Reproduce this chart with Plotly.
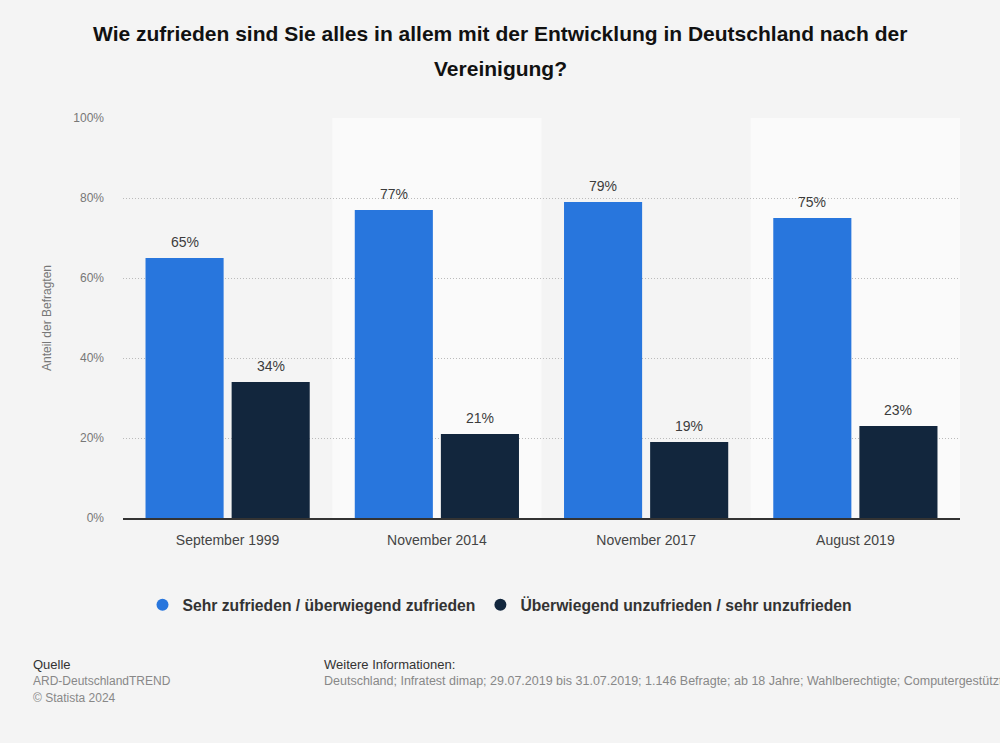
import plotly.graph_objects as go

categories = ["September 1999", "November 2014", "November 2017", "August 2019"]
zufrieden = [65, 77, 79, 75]
unzufrieden = [34, 21, 19, 23]
series_names = ["Sehr zufrieden / überwiegend zufrieden", "Überwiegend unzufrieden / sehr unzufrieden"]
colors = ["#2876dd", "#12263d"]
y_ticks = [0, 20, 40, 60, 80, 100]

W, H = 1000, 743
L, R, T, B = 123, 40, 118, 225
PW, PH = W - L - R, H - T - B

def px(x):
    return (x - L) / PW

def py(y):
    return (H - B - y) / PH

FONT = "Liberation Sans, Arial, sans-serif"

fig = go.Figure()
series = [zufrieden, unzufrieden]
for name, vals, col in zip(series_names, series, colors):
    fig.add_trace(go.Bar(
        x=categories, y=vals, name=name, marker=dict(color=col, line=dict(width=0)),
        showlegend=False, hoverinfo="x+y",
    ))
# legend entries with circle markers
for name, col in zip(series_names, colors):
    fig.add_trace(go.Scatter(
        x=[None], y=[None], mode="markers", name=f"<b>{name}</b>",
        marker=dict(symbol="circle", size=15, color=col), showlegend=True,
    ))

shapes = []
for i in range(len(categories)):
    if i % 2 == 1:
        shapes.append(dict(type="rect", xref="x", yref="paper", x0=i - 0.5, x1=i + 0.5,
                           y0=0, y1=1, fillcolor="#fafafa", line=dict(width=0), layer="below"))

annotations = []
# value labels above bars
for si, vals in enumerate(series):
    shift = -43 if si == 0 else 43
    for cat, v in zip(categories, vals):
        annotations.append(dict(
            text=f"{v}%", x=cat, y=v, xref="x", yref="y", xshift=shift, yshift=6,
            xanchor="center", yanchor="bottom", showarrow=False,
            font=dict(size=14, color="#3c3c3c", family=FONT)))

annotations += [
    dict(text="<b>Wie zufrieden sind Sie alles in allem mit der Entwicklung in Deutschland nach der</b>",
         xref="paper", yref="paper", x=px(500), y=py(33), xanchor="center", yanchor="middle",
         showarrow=False, font=dict(size=21, color="#111111", family=FONT)),
    dict(text="<b>Vereinigung?</b>",
         xref="paper", yref="paper", x=px(500), y=py(68), xanchor="center", yanchor="middle",
         showarrow=False, font=dict(size=21, color="#111111", family=FONT)),
    dict(text="Quelle", xref="paper", yref="paper", x=px(31), y=py(664), xanchor="left", yanchor="middle",
         showarrow=False, font=dict(size=13, color="#333333", family=FONT)),
    dict(text="ARD-DeutschlandTREND", xref="paper", yref="paper", x=px(31), y=py(681), xanchor="left",
         yanchor="middle", showarrow=False, font=dict(size=12, color="#888888", family=FONT)),
    dict(text="© Statista 2024", xref="paper", yref="paper", x=px(31), y=py(698), xanchor="left",
         yanchor="middle", showarrow=False, font=dict(size=12, color="#888888", family=FONT)),
    dict(text="Weitere Informationen:", xref="paper", yref="paper", x=px(322), y=py(664), xanchor="left",
         yanchor="middle", showarrow=False, font=dict(size=13, color="#333333", family=FONT)),
    dict(text="Deutschland; Infratest dimap; 29.07.2019 bis 31.07.2019; 1.146 Befragte; ab 18 Jahre; Wahlberechtigte; Computergestützte Telefoninterviews (CATI)",
         xref="paper", yref="paper", x=px(322), y=py(681), xanchor="left", yanchor="middle",
         showarrow=False, font=dict(size=12.5, color="#888888", family=FONT)),
]

fig.update_layout(
    width=W, height=H,
    margin=dict(l=L, r=R, t=T, b=B),
    paper_bgcolor="#f4f4f4", plot_bgcolor="rgba(0,0,0,0)",
    barmode="group", bargap=0.177, bargroupgap=0.093,
    font=dict(family=FONT),
    shapes=shapes, annotations=annotations,
    legend=dict(orientation="h", x=px(500), xanchor="center", y=py(605), yanchor="middle",
                font=dict(size=15.7, color="#333333", family=FONT),
                bgcolor="rgba(0,0,0,0)", itemsizing="constant", traceorder="normal"),
    xaxis=dict(range=[-0.5, 3.5], showgrid=False, showline=True, linecolor="#333333", linewidth=2,
               ticks="", tickfont=dict(size=14, color="#444444"), ticklabelstandoff=8, fixedrange=True),
    yaxis=dict(range=[0, 100], tickvals=y_ticks, ticktext=[f"{v}%" for v in y_ticks],
               showgrid=True, gridcolor="#bbbbbb", griddash="1px,2px", gridwidth=1,
               zeroline=False, showline=False, ticks="", ticklen=0,
               tickfont=dict(size=12, color="#777777"), ticklabelstandoff=18,
               title=dict(text="Anteil der Befragten", font=dict(size=12, color="#777777"), standoff=19)),
)

fig.write_html("out.html", config={"displayModeBar": False},
               post_script="document.body.style.margin='0';document.body.style.padding='0';")
